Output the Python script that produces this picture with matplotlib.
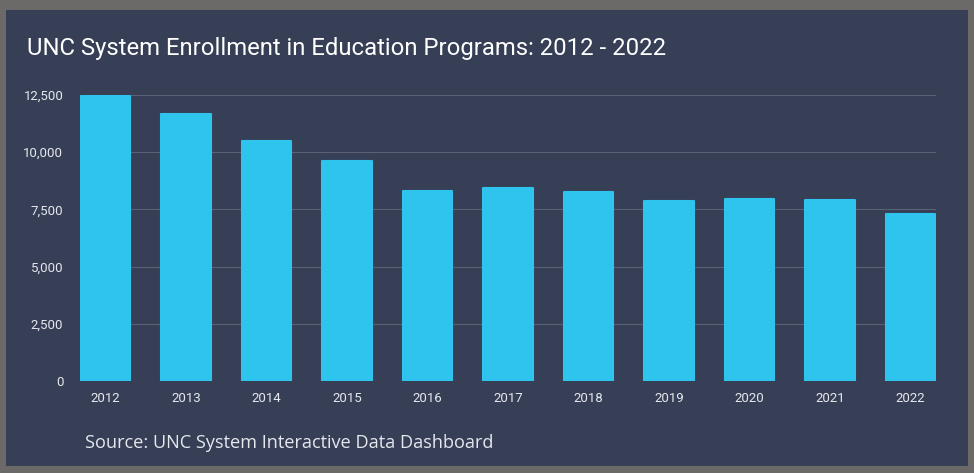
import matplotlib.pyplot as plt
from matplotlib.patches import Rectangle

years = ['2012', '2013', '2014', '2015', '2016', '2017', '2018', '2019', '2020', '2021', '2022']
enrollment = [12450, 11650, 10490, 9600, 8290, 8440, 8250, 7870, 7950, 7910, 7290]
y_ticks = [0, 2500, 5000, 7500, 10000, 12500]

BG = '#363f56'
BORDER = '#6c6a69'
BAR = '#2ec4ee'
TXT = '#e6e8ee'

W, H = 974, 473
fig = plt.figure(figsize=(W / 100, H / 100), dpi=100)
fig.patch.set_facecolor(BORDER)

# inner dark panel
fig.patches.append(Rectangle((6 / W, 7 / H), (968 - 6) / W, (468 - 12) / H,
                             transform=fig.transFigure, facecolor=BG,
                             edgecolor='none', zorder=-5))

ax = fig.add_axes([80 / W, (H - 381) / H, (936 - 80) / W, (381 - 95) / H])
ax.set_zorder(2)
ax.set_facecolor(BG)

x = range(len(years))
bars = ax.bar(x, enrollment, width=0.62, color=BAR, edgecolor=BAR,
              linewidth=1.5, zorder=3)
for b in bars:
    b.set_joinstyle('round')

ax.set_xlim(-0.317, len(years) - 1 + 0.317)
ax.set_ylim(0, 12500)
ax.set_yticks(y_ticks)
ax.set_yticklabels([f'{v:,}' for v in y_ticks])
ax.set_xticks(list(x))
ax.set_xticklabels(years)

ax.grid(axis='y', color='#5a6175', linewidth=0.8, zorder=0)
ax.grid(axis='x', visible=False)
ax.set_axisbelow(True)
for s in ax.spines.values():
    s.set_visible(False)
ax.tick_params(length=0, colors=TXT, labelsize=9.5)
ax.tick_params(axis='y', pad=12)
ax.tick_params(axis='x', pad=8)
for lbl in ax.get_xticklabels() + ax.get_yticklabels():
    lbl.set_fontfamily('Roboto')

fig.text(27 / W, 1 - 48 / H, 'UNC System Enrollment in Education Programs: 2012 - 2022',
         fontsize=17.2, color='white', family='Roboto', va='center', ha='left')
fig.text(85 / W, 1 - 443 / H, 'Source: UNC System Interactive Data Dashboard',
         fontsize=13.1, color=TXT, family='Open Sans', va='center', ha='left')

fig.savefig('out.png', dpi=100, facecolor=fig.get_facecolor())
